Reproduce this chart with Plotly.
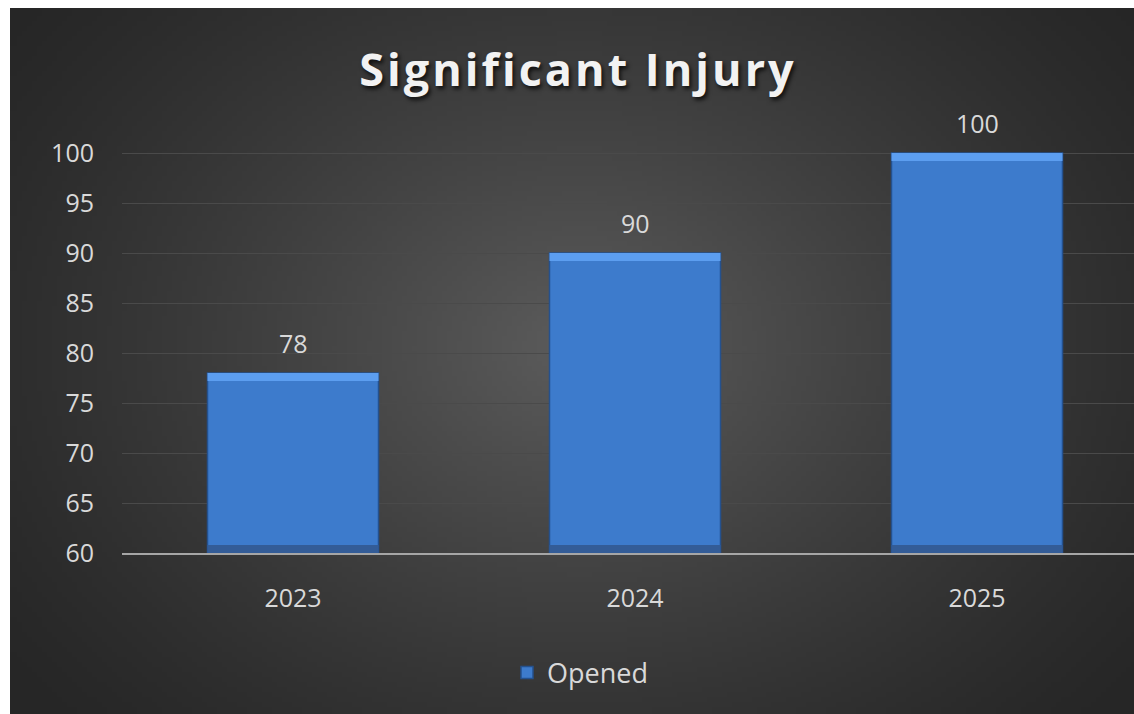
import base64, struct, zlib, math
import plotly.graph_objects as go

# ---- data ----
categories = ["2023", "2024", "2025"]
opened = [78, 90, 100]
y_ticks = [60, 65, 70, 75, 80, 85, 90, 95, 100]
series_name = "Opened"
title_text = "Significant Injury"

# ---- background radial gradient as a small PNG ----
def gradient_png(w, h, cx, cy, rx, ry, inner, outer, power):
    rows = bytearray()
    for j in range(h):
        rows.append(0)
        for i in range(w):
            dx = ((i + 0.5) / w - cx) / rx
            dy = ((j + 0.5) / h - cy) / ry
            r = math.sqrt(dx * dx + dy * dy)
            t = max(0.0, 1.0 - r) ** power
            rows.append(int(round(outer + (inner - outer) * t)))
    def chunk(tag, data):
        c = struct.pack(">I", len(data)) + tag + data
        return c + struct.pack(">I", zlib.crc32(tag + data) & 0xFFFFFFFF)
    png = b"\x89PNG\r\n\x1a\n"
    png += chunk(b"IHDR", struct.pack(">IIBBBBB", w, h, 8, 0, 0, 0, 0))
    png += chunk(b"IDAT", zlib.compress(bytes(rows), 9))
    png += chunk(b"IEND", b"")
    return "data:image/png;base64," + base64.b64encode(png).decode()

bg_src = gradient_png(228, 141, 0.50, 0.48, 0.62, 0.78, 92, 38, 1.25)

# page coordinates (body margin removed in post script); chart is wider than the
# window and cropped on the right, as in the reference
W, H = 1148, 714
ml, mr, mt, mb = 122, 0, 130, 161
pw, ph = W - ml - mr, H - mt - mb

def px_x(px):
    return (px - ml) / pw

def px_y(py):
    return (H - mb - py) / ph

fig = go.Figure()

fig.add_trace(go.Bar(
    x=categories, y=opened, name=series_name, width=0.5,
    marker=dict(color="#3d7bcc", line=dict(color="#24518e", width=1.5)),
    hoverinfo="x+y",
))
# top bevel highlight
strip = 0.8
fig.add_trace(go.Bar(
    x=categories, y=[strip] * len(opened), base=[v - strip for v in opened],
    width=0.5, showlegend=False, hoverinfo="skip",
    marker=dict(color="#5c9ef0", line=dict(width=0)),
))
# bottom shade
fig.add_trace(go.Bar(
    x=categories, y=[strip] * len(opened), base=[y_ticks[0]] * len(opened),
    width=0.5, showlegend=False, hoverinfo="skip",
    marker=dict(color="#335c97", line=dict(width=0)),
))

for i, v in enumerate(opened):
    fig.add_annotation(x=i, y=v, text=str(v), showarrow=False, yanchor="middle",
                       yshift=30, font=dict(family="Open Sans", size=25, color="#d9d9d9"))

fig.update_layout(
    width=W, height=H,
    margin=dict(l=ml, r=mr, t=mt, b=mb),
    paper_bgcolor="white", plot_bgcolor="rgba(0,0,0,0)",
    barmode="overlay", bargap=0.5,
    title=dict(text=title_text, x=578 / W, xanchor="center",
               y=1 - 70 / H, yanchor="middle",
               font=dict(family="Open Sans", size=45, color="#f2f2f2", weight="bold",
                         shadow="2px 3px 4px rgba(0,0,0,0.75)")),
    images=[dict(source=bg_src, xref="paper", yref="paper",
                 x=px_x(10), y=px_y(8), sizex=(W - 10) / pw, sizey=(H - 8) / ph,
                 xanchor="left", yanchor="top", sizing="stretch", layer="below")],
    legend=dict(orientation="h", x=px_x(580), xanchor="center", y=px_y(673), yanchor="middle",
                font=dict(family="Open Sans", size=27, color="#d9d9d9"),
                bgcolor="rgba(0,0,0,0)"),
    showlegend=True,
)
fig.update_xaxes(type="category", range=[-0.5, 2.5], showgrid=False, showline=True,
                 linecolor="#a6a6a6", linewidth=2, ticks="", ticklabelstandoff=22,
                 tickfont=dict(family="Open Sans", size=25, color="#d9d9d9"), fixedrange=True)
fig.update_yaxes(range=[60, 100 + (153 - mt) / 10], tickvals=y_ticks, showgrid=True,
                 gridcolor="#4a4a4a", gridwidth=1, zeroline=False, showline=False,
                 ticklabelstandoff=27,
                 tickfont=dict(family="Open Sans", size=25, color="#d9d9d9"), fixedrange=True)

post = """
document.documentElement.style.overflow = 'hidden';
document.body.style.overflow = 'hidden';
document.body.style.margin = '0';
var t = document.querySelectorAll('.gtitle');
t.forEach(function(e){ e.style.letterSpacing = '3px'; });
"""
fig.write_html("out.html", post_script=post, config={"displayModeBar": False})
